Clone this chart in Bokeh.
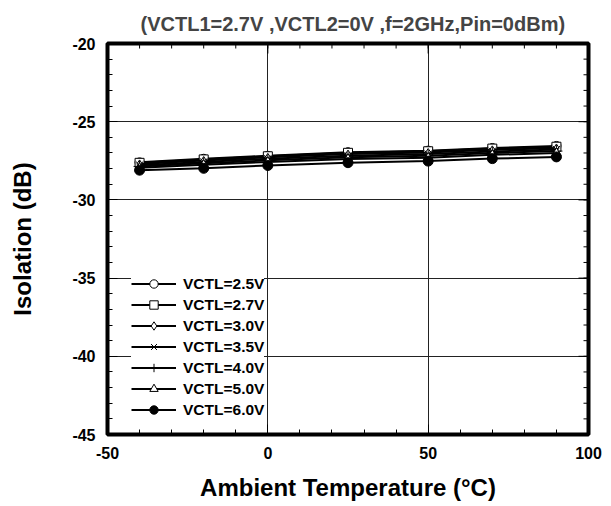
import math
from bokeh.plotting import figure
from bokeh.models import Legend, LegendItem, Range1d, FixedTicker, PrintfTickFormatter
from bokeh.embed import file_html
from bokeh.resources import INLINE

# ---- data ----
temps = [-40, -20, 0, 25, 50, 70, 90]
iso_2_5 = [-27.60, -27.37, -27.18, -26.95, -26.85, -26.68, -26.55]
iso_2_7 = [-27.63, -27.41, -27.21, -26.99, -26.89, -26.72, -26.60]
iso_3_0 = [-27.70, -27.48, -27.28, -27.07, -26.97, -26.80, -26.68]
iso_3_5 = [-27.78, -27.57, -27.37, -27.17, -27.07, -26.90, -26.78]
iso_4_0 = [-27.86, -27.66, -27.47, -27.27, -27.18, -27.00, -26.88]
iso_5_0 = [-27.95, -27.76, -27.57, -27.38, -27.30, -27.12, -27.00]
iso_6_0 = [-28.10, -27.98, -27.80, -27.62, -27.52, -27.36, -27.25]
series_labels = ["VCTL=2.5V", "VCTL=2.7V", "VCTL=3.0V", "VCTL=3.5V",
                 "VCTL=4.0V", "VCTL=5.0V", "VCTL=6.0V"]
x_ticks = [-50, 0, 50, 100]
y_ticks = [-45, -40, -35, -30, -25, -20]
x_minor = list(range(-50, 101, 10))
y_minor = list(range(-45, -19, 1))
title_text = "(VCTL1=2.7V ,VCTL2=0V ,f=2GHz,Pin=0dBm)"

series = [iso_2_5, iso_2_7, iso_3_0, iso_3_5, iso_4_0, iso_5_0, iso_6_0]
markers = ["circle", "square", "diamond", "x", "cross", "triangle", "circle"]
sizes = [9, 9, 8, 10, 12, 9, 10]
fills = ["white", "white", "white", "white", "white", "white", "black"]

FONT = "Liberation Sans"

p = figure(frame_width=481, frame_height=391, output_backend="svg",
           toolbar_location=None,
           x_range=Range1d(x_ticks[0], x_ticks[-1]),
           y_range=Range1d(y_ticks[0], y_ticks[-1]),
           min_border_left=107, min_border_right=15, min_border_top=43,
           min_border_bottom=70)

p.title.text = title_text
p.title.text_font = FONT
p.title.text_font_size = "20px"
p.title.text_font_style = "bold"
p.title.align = "left"
p.title.offset = 33
p.title.standoff = 18

p.outline_line_color = "black"
p.outline_line_width = 4
p.outline_line_alpha = 1.0

p.xgrid.ticker = FixedTicker(ticks=x_ticks)
p.ygrid.ticker = FixedTicker(ticks=y_ticks)
for g in (p.xgrid[0], p.ygrid[0]):
    g.grid_line_color = "#222222"
    g.grid_line_width = 1

# ticks on top and right edges (clipped to frame, so only the inner half shows)
p.scatter(x_minor, [y_ticks[-1]] * len(x_minor), marker="dash", angle=math.pi / 2,
          size=10, line_color="black", line_width=1)
p.scatter(x_ticks, [y_ticks[-1]] * len(x_ticks), marker="dash", angle=math.pi / 2,
          size=20, line_color="black", line_width=1)
p.scatter([x_ticks[-1]] * len(y_minor), y_minor, marker="dash",
          size=10, line_color="black", line_width=1)
p.scatter([x_ticks[-1]] * len(y_ticks), y_ticks, marker="dash",
          size=20, line_color="black", line_width=1)

items = []
for vals, mk, sz, fc, lab in zip(series, markers, sizes, fills, series_labels):
    r1 = p.line(temps, vals, line_color="black", line_width=2)
    r2 = p.scatter(temps, vals, marker=mk, size=sz, fill_color=fc,
                   line_color="black", line_width=1)
    items.append(LegendItem(label=lab, renderers=[r1, r2]))

xa = p.xaxis[0]
ya = p.yaxis[0]
xa.ticker = FixedTicker(ticks=x_ticks, minor_ticks=x_minor)
ya.ticker = FixedTicker(ticks=y_ticks, minor_ticks=y_minor)
for ax in (xa, ya):
    ax.formatter = PrintfTickFormatter(format="%d")
    ax.axis_line_color = None
    ax.major_tick_in = 10
    ax.major_tick_out = 0
    ax.minor_tick_in = 5
    ax.minor_tick_out = 0
    ax.major_tick_line_color = "black"
    ax.minor_tick_line_color = "black"
    ax.major_label_text_font = FONT
    ax.major_label_text_font_style = "bold"
    ax.major_label_text_font_size = "16px"
    ax.major_label_text_color = "black"
    ax.axis_label_text_font = FONT
    ax.axis_label_text_font_style = "bold"
    ax.axis_label_text_font_size = "24px"
    ax.axis_label_text_color = "black"
xa.axis_label = "Ambient Temperature (°C)"
ya.axis_label = "Isolation (dB)"
xa.major_label_standoff = 12
xa.axis_label_standoff = 12
ya.major_label_standoff = 12
ya.axis_label_standoff = 33

legend = Legend(items=items, location=(24, 14))
legend.border_line_color = None
legend.background_fill_color = "white"
legend.background_fill_alpha = 1.0
legend.padding = 6
legend.spacing = 0
legend.margin = 0
legend.glyph_width = 45
legend.glyph_height = 21
legend.label_height = 21
legend.label_standoff = 7
legend.label_text_font = FONT
legend.label_text_font_style = "bold"
legend.label_text_font_size = "15.5px"
legend.label_text_color = "black"
p.add_layout(legend, "center")

open("out.html", "w").write(file_html(p, INLINE))
